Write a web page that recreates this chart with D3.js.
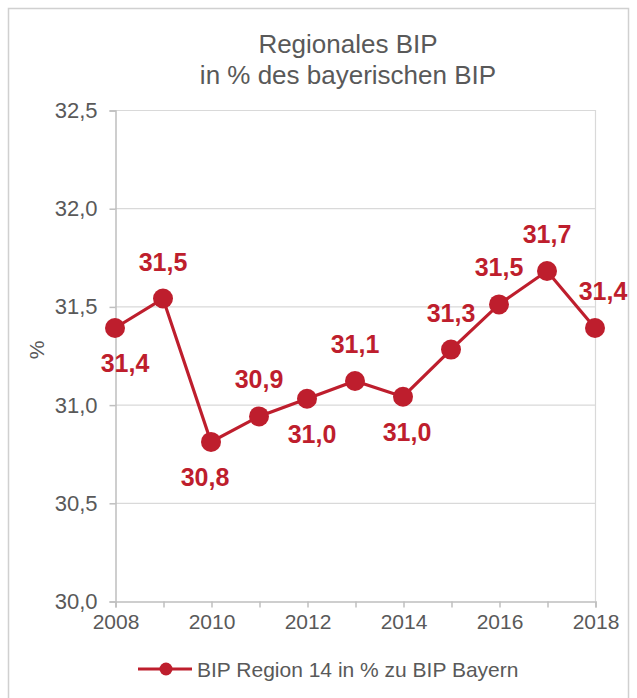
<!DOCTYPE html>
<html><head><meta charset="utf-8">
<script src="https://cdn.jsdelivr.net/npm/d3@7"></script>
<style>body{margin:0;background:#fff}svg{display:block;font-family:"Liberation Sans",Arial,sans-serif}</style>
</head><body>
<svg id="c" width="637" height="698"></svg>
<script>
const years = [2008,2009,2010,2011,2012,2013,2014,2015,2016,2017,2018];
const values = [31.39,31.54,30.81,30.94,31.03,31.12,31.04,31.28,31.51,31.68,31.39];
const valueLabels = ["31,4","31,5","30,8","30,9","31,0","31,1","31,0","31,3","31,5","31,7","31,4"];
const labelSide = ["below","above","below","above","below","above","below","above","above","above","above"];
const yTicks = [30.0,30.5,31.0,31.5,32.0,32.5];
const xTicks = [2008,2010,2012,2014,2016,2018];
const titleLines = ["Regionales BIP","in % des bayerischen BIP"];
const seriesName = "BIP Region 14 in % zu BIP Bayern";

const red = "#BE1E2D", grey = "#595959";
const svg = d3.select("#c");
const m = {left:115, right:595, top:110, bottom:601};
const x = d3.scaleLinear().domain([2008,2018]).range([m.left,m.right]);
const y = d3.scaleLinear().domain([30,32.5]).range([m.bottom,m.top]);
const fmt = d3.format(".1f");
const comma = v => fmt(v).replace(".",",");

// frame
svg.append("rect").attr("x",8.5).attr("y",8.5).attr("width",620).attr("height",700)
  .attr("fill","#fff").attr("stroke","#d0d0d0").attr("stroke-width",1.5);

// title
svg.append("text").attr("text-anchor","middle").attr("fill",grey)
  .style("font-size","26px")
  .selectAll("tspan").data(titleLines).join("tspan")
  .attr("x",348).attr("y",(d,i)=>53+i*31).text(d=>d);

// gridlines
svg.append("g").selectAll("line").data(yTicks.slice(1)).join("line")
  .attr("x1",m.left).attr("x2",m.right).attr("y1",d=>y(d)+0.5).attr("y2",d=>y(d)+0.5)
  .attr("stroke","#d9d9d9").attr("stroke-width",1.2);
svg.append("line").attr("x1",m.right+0.5).attr("x2",m.right+0.5).attr("y1",m.top).attr("y2",m.bottom)
  .attr("stroke","#d9d9d9").attr("stroke-width",1.2);

// y axis
const ya = svg.append("g").attr("transform",`translate(${m.left+0.5},0.5)`)
  .call(d3.axisLeft(y).tickValues(yTicks).tickFormat(comma).tickSize(6).tickPadding(12));
// x axis
const xa = svg.append("g").attr("transform",`translate(0.5,${m.bottom+0.5})`)
  .call(d3.axisBottom(x).tickValues(years).tickFormat(d=>xTicks.includes(d)?d:"").tickSize(6).tickPadding(7));
[ya,xa].forEach(a=>{
  a.select(".domain").attr("stroke","#bfbfbf").attr("stroke-width",1.5);
  a.selectAll(".tick line").attr("stroke","#bfbfbf").attr("stroke-width",1.5);
  a.selectAll("text").attr("fill",grey).style("font-family","Liberation Sans, Arial, sans-serif");
});
ya.selectAll("text").style("font-size","22px");
xa.selectAll("text").style("font-size","21px");

// y title
svg.append("text").attr("transform","translate(44,350) rotate(-90)").attr("text-anchor","middle")
  .attr("fill",grey).style("font-size","21px").text("%");

// line
const data = years.map((yr,i)=>({yr,v:values[i],lab:valueLabels[i],side:labelSide[i]}));
svg.append("path").datum(data).attr("fill","none").attr("stroke",red).attr("stroke-width",3.2)
  .attr("d",d3.line().x(d=>x(d.yr)).y(d=>y(d.v)));
svg.append("g").selectAll("circle").data(data).join("circle")
  .attr("cx",d=>x(d.yr)).attr("cy",d=>y(d.v)).attr("r",10).attr("fill",red);

// labels
const dx = {2008:10,2010:-6,2012:5,2014:4,2018:8};
svg.append("g").selectAll("text").data(data).join("text")
  .attr("x",d=>x(d.yr)+(dx[d.yr]||0))
  .attr("y",d=>y(d.v)+(d.side==="above"?-28:44))
  .attr("text-anchor","middle").attr("fill",red)
  .style("font-size","25px").style("font-weight","bold").text(d=>d.lab);

// legend
const lg = svg.append("g").attr("transform","translate(138,669)");
lg.append("line").attr("x1",0).attr("x2",54).attr("stroke",red).attr("stroke-width",3.2);
lg.append("circle").attr("cx",28).attr("r",6.5).attr("fill",red);
lg.append("text").attr("x",59).attr("y",7.5).attr("fill",grey).style("font-size","21px").text(seriesName);
</script>
</body></html>
